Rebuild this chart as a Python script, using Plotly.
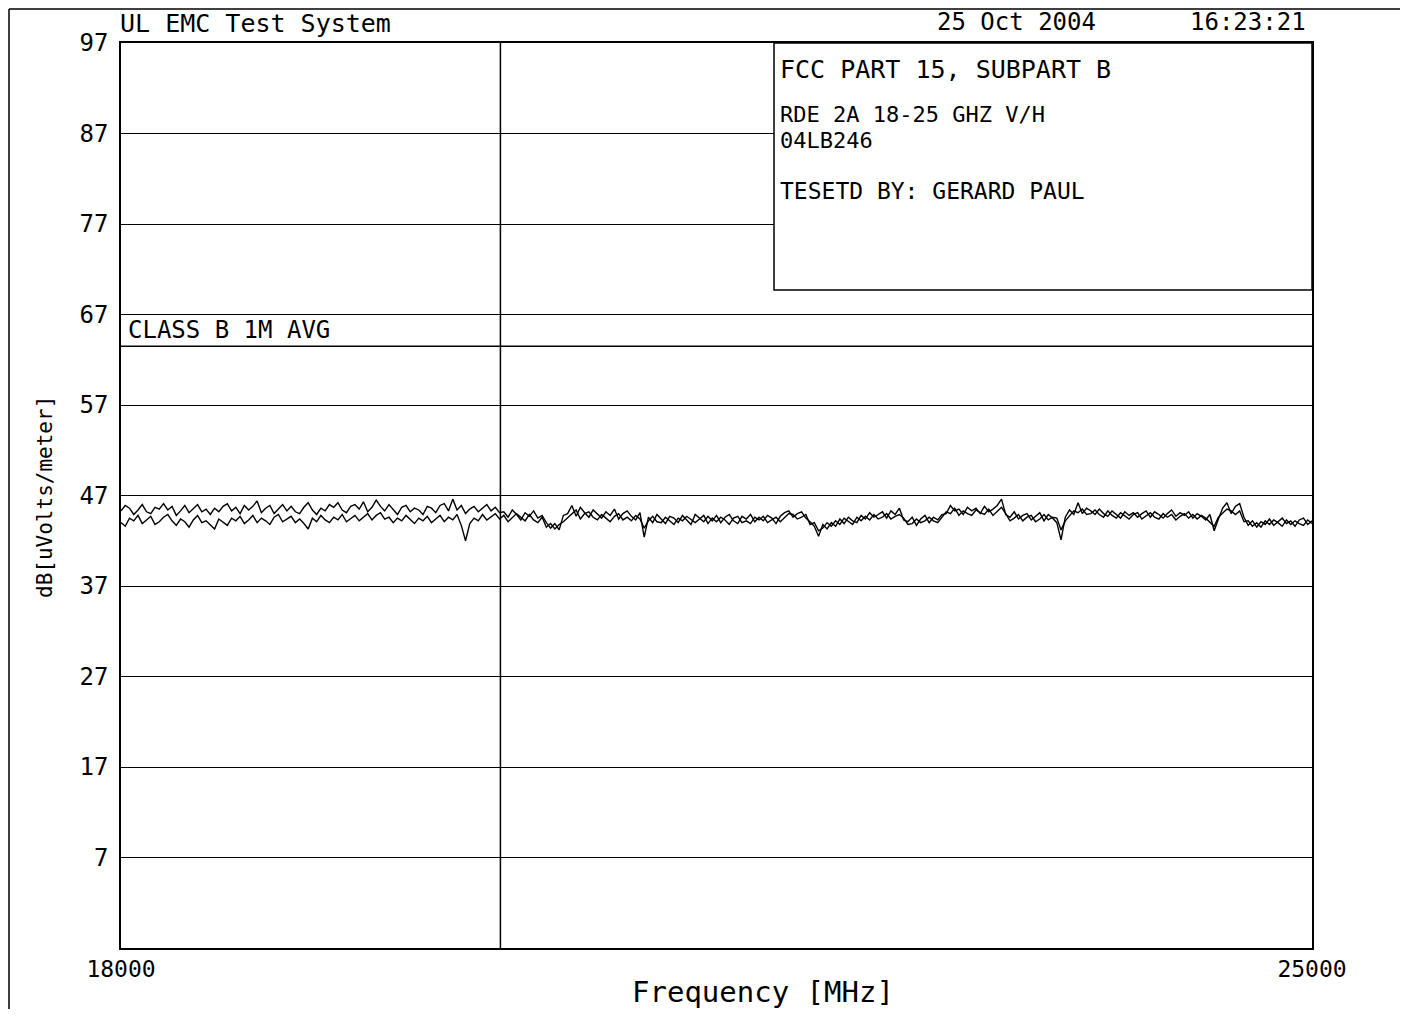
import numpy as np
import plotly.graph_objects as go

# ---------------- data ----------------
FREQ_START = 18000
FREQ_STOP = 25000
BAND_SPLIT = 20230          # vertical divider (MHz)
LIMIT_LABEL = "CLASS B 1M AVG"
LIMIT_VALUE = 63.5          # dBuV/m

Y_TICKS = [7, 17, 27, 37, 47, 57, 67, 77, 87, 97]
X_TICKS = [18000, 25000]

trace_v = [
    45.3, 45.9, 45.6, 44.9, 45.4, 46.0, 45.2, 45.0, 45.7, 45.5,
    46.1, 45.4, 45.8, 44.8, 45.3, 45.9, 45.1, 45.6, 46.0, 45.2,
    45.5, 44.9, 45.6, 45.2, 45.8, 46.1, 45.3, 45.7, 45.0, 45.9,
    45.4, 45.8, 46.4, 45.1, 45.6, 45.9, 45.0, 45.5, 46.0, 45.3,
    45.8, 45.2, 45.0, 45.7, 46.2, 45.4, 44.9, 45.6, 45.3, 46.0,
    45.7, 46.2, 45.4, 45.1, 45.8, 46.0, 45.5, 46.3, 45.2, 45.7,
    46.5, 45.8, 45.3, 46.0, 45.5, 44.9, 45.7, 45.9, 45.2, 45.6,
    45.4, 44.9, 45.8, 45.6, 45.1, 45.9, 46.1, 45.3, 46.6, 45.4,
    45.9, 45.0, 45.5, 45.8, 45.2, 45.6, 46.0, 45.3, 45.7, 45.1,
    45.2, 44.6, 45.4, 44.9, 44.3, 45.1, 44.7, 45.3, 44.5, 44.8,
    44.0, 43.4, 43.9, 43.2, 44.8, 45.0, 45.9, 44.7, 45.7, 45.1,
    44.6, 45.4, 45.0, 44.5, 45.2, 44.8, 45.5, 44.4, 45.0, 45.3,
    44.7, 44.3, 45.1, 42.4, 44.6, 44.0, 44.9, 44.4, 43.9, 44.7,
    44.5, 44.0, 44.8, 44.3, 43.8, 44.9, 44.5, 44.1, 44.7, 44.2,
    44.8, 44.0, 44.6, 44.9, 44.2, 43.9, 44.7, 44.4, 44.9, 44.1,
    44.6, 44.2, 44.8, 44.5, 43.9, 44.7, 45.1, 45.3, 44.6, 45.0,
    45.2, 44.5, 44.1, 43.6, 42.5, 43.8, 43.3, 44.0, 43.6, 44.4,
    43.9, 44.6, 44.2, 44.0, 44.8, 44.4, 45.1, 44.6, 44.9, 45.2,
    44.5, 45.3, 44.9, 45.6, 44.3, 44.1, 44.6, 43.7, 44.4, 44.8,
    44.0, 44.6, 44.3, 44.9, 45.0, 45.9, 45.3, 45.5, 44.9, 45.7,
    45.3, 45.6, 45.0, 45.8, 45.2, 45.5, 45.9, 46.6, 44.9, 44.6,
    45.2, 44.4, 44.8, 45.0, 44.3, 44.7, 45.1, 44.2, 44.9, 44.5,
    44.0, 42.1, 44.6, 45.4, 44.9, 46.2, 45.0, 45.6, 45.3, 44.9,
    45.5, 45.0, 44.7, 45.3, 44.9, 44.5, 45.2, 44.8, 45.1, 44.6,
    45.0, 45.3, 44.6, 45.2, 44.9, 44.5, 45.0, 45.4, 44.7, 45.1,
    44.8, 45.2, 44.5, 45.0, 44.7, 44.3, 44.9, 43.1, 44.4, 45.6,
    46.2, 45.0, 45.8, 46.1, 44.6, 43.7, 44.2, 43.5, 44.1, 43.8,
    44.4, 43.7, 44.1, 44.5, 43.9, 44.2, 43.6, 44.3, 44.5, 43.8,
    44.2,
]

trace_h = [
    44.0, 43.6, 44.5, 44.2, 44.8, 43.9, 44.3, 44.7, 43.8, 44.1,
    44.6, 44.9, 44.2, 43.7, 44.4, 44.1, 43.5, 44.3, 44.8, 44.0,
    44.2, 43.8, 43.3, 44.4, 44.0, 43.7, 44.5, 44.2, 44.7, 43.9,
    44.3, 44.8, 44.0, 44.5, 44.2, 43.8, 44.6, 44.9, 44.1, 44.4,
    44.7, 44.0, 44.4, 43.9, 43.3, 44.5, 44.1, 44.8, 44.3, 44.0,
    44.6, 44.3, 44.9, 44.1, 44.5, 44.8, 44.2, 44.6, 45.0, 44.3,
    44.8, 45.1, 44.4, 44.6, 44.0, 44.5, 44.2, 44.8, 44.4, 43.9,
    44.5, 44.2, 44.7, 44.0, 44.4, 44.8, 44.1, 44.6, 44.3, 44.9,
    43.7, 42.0, 43.9, 44.5, 44.2, 44.9, 44.3, 44.7, 45.0, 44.4,
    44.8, 44.1, 44.5, 45.0, 44.6, 44.2, 44.9, 44.3, 44.0, 44.6,
    43.5, 43.9, 43.3, 43.8, 44.1, 44.5, 44.9, 45.4, 44.4, 45.0,
    45.2, 44.6, 44.3, 44.9, 44.5, 44.1, 44.7, 45.0, 44.3, 44.6,
    44.2, 44.8, 44.4, 43.4, 44.2, 44.7, 44.1, 44.0, 44.6, 44.2,
    43.8, 44.5, 44.2, 44.7, 44.3, 44.0, 44.4, 44.8, 43.9, 44.5,
    44.1, 44.6, 44.3, 43.8, 44.5, 44.7, 44.0, 44.2, 43.9, 44.6,
    44.3, 44.7, 44.0, 44.3, 44.6, 44.1, 44.5, 45.0, 44.9, 44.4,
    44.6, 44.9, 43.8, 44.0, 43.1, 43.4, 44.0, 43.6, 44.2, 43.8,
    44.5, 44.1, 43.8, 44.6, 44.2, 44.7, 44.3, 44.9, 44.4, 44.6,
    45.0, 44.4, 44.7, 44.9, 44.5, 43.8, 43.9, 44.4, 44.0, 44.2,
    44.6, 44.2, 44.0, 44.6, 45.2, 45.0, 45.6, 44.8, 45.3, 45.0,
    44.8, 45.4, 45.1, 44.9, 45.5, 44.8, 45.2, 45.7, 45.0, 44.2,
    44.5, 44.9, 44.2, 44.6, 44.8, 44.1, 44.4, 44.9, 44.3, 44.6,
    44.5, 43.2, 44.2, 44.8, 45.3, 45.1, 45.5, 44.9, 45.0, 45.4,
    44.9, 44.6, 45.3, 44.8, 44.5, 45.1, 44.7, 44.4, 44.9, 45.1,
    44.4, 44.8, 45.1, 44.6, 44.4, 45.0, 44.6, 44.9, 44.3, 44.7,
    45.0, 44.5, 44.9, 44.4, 44.8, 44.5, 44.0, 43.6, 44.6, 45.0,
    45.5, 45.3, 44.9, 45.3, 44.1, 44.2, 43.6, 44.0, 43.5, 44.2,
    43.8, 44.3, 44.0, 43.6, 44.3, 43.8, 44.2, 43.9, 43.7, 44.3,
    43.9,
]

freq_v = np.linspace(FREQ_START, FREQ_STOP, len(trace_v))
freq_h = np.linspace(FREQ_START, FREQ_STOP, len(trace_h))

# ---------------- figure ----------------
FONT = "DejaVu Sans Mono"
BLACK = "#000000"

fig = go.Figure()
fig.add_trace(go.Scatter(x=[FREQ_START, FREQ_STOP], y=[LIMIT_VALUE, LIMIT_VALUE],
                         mode="lines", line=dict(color=BLACK, width=1.5),
                         showlegend=False, hoverinfo="skip"))
fig.add_trace(go.Scatter(x=freq_v, y=trace_v, mode="lines",
                         line=dict(color=BLACK, width=1.4), showlegend=False))
fig.add_trace(go.Scatter(x=freq_h, y=trace_h, mode="lines",
                         line=dict(color=BLACK, width=1.4), showlegend=False))

# page geometry (px, page coordinates); the html body adds an 8px margin
OFF = 8
PAGE_W, PAGE_H = 1408, 1017
L, T, W, H = 121, 43, 1191, 905
FIG_W, FIG_H = PAGE_W - 2 * OFF, PAGE_H - 2 * OFF


def px(x):
    return (x - L) / W


def py(y):
    return (T + H - y) / H


fig.update_layout(
    width=FIG_W, height=FIG_H,
    margin=dict(l=L - OFF, r=FIG_W - (L - OFF) - W, t=T - OFF, b=FIG_H - (T - OFF) - H),
    paper_bgcolor="white", plot_bgcolor="white",
    font=dict(family=FONT, color=BLACK, size=24),
    xaxis=dict(range=[FREQ_START, FREQ_STOP], tickvals=X_TICKS,
               ticktext=[str(v) for v in X_TICKS],
               showgrid=False, zeroline=False, showline=True, mirror=True,
               linecolor=BLACK, linewidth=1.5, ticks="",
               tickfont=dict(family=FONT, size=23)),
    yaxis=dict(range=[-3, 97], tickvals=Y_TICKS,
               showgrid=True, gridcolor=BLACK, gridwidth=1.3,
               zeroline=False, showline=True, mirror=True,
               linecolor=BLACK, linewidth=1.5, ticks="",
               ticklabelstandoff=6,
               tickfont=dict(family=FONT, size=24)),
)

shapes = [
    # band divider
    dict(type="line", xref="x", yref="paper", x0=BAND_SPLIT, x1=BAND_SPLIT,
         y0=0, y1=1, line=dict(color=BLACK, width=1.5)),
    # info box
    dict(type="rect", xref="paper", yref="paper", x0=px(774), x1=1, y0=py(290), y1=1,
         fillcolor="white", line=dict(color=BLACK, width=1.5), layer="above"),
    # page frame (left and top)
    dict(type="line", xref="paper", yref="paper", x0=px(9), x1=px(9),
         y0=py(PAGE_H), y1=py(9), line=dict(color=BLACK, width=1.5)),
    dict(type="line", xref="paper", yref="paper", x0=px(9), x1=px(1400),
         y0=py(9), y1=py(9), line=dict(color=BLACK, width=1.5)),
]
fig.update_layout(shapes=shapes)


def note(text, x, y, xanchor="left", size=24, angle=0):
    fig.add_annotation(text=text, xref="paper", yref="paper", x=x, y=y,
                       xanchor=xanchor, yanchor="middle", showarrow=False,
                       textangle=angle, font=dict(family=FONT, size=size, color=BLACK))


note("UL EMC Test System", px(118), py(23), size=25)
note("25 Oct 2004", px(935), py(22), size=24)
note("16:23:21", px(1308), py(22), xanchor="right", size=24)
note("FCC PART 15, SUBPART B", px(778), py(70), size=25)
note("RDE 2A 18-25 GHZ V/H", px(778), py(114), size=22)
note("04LB246", px(778), py(140), size=22)
note("TESETD BY: GERARD PAUL", px(778), py(191), size=23)
note(LIMIT_LABEL, px(126), py(330), size=24)
note("Frequency [MHz]", px(763), py(992), xanchor="center", size=29)
note("dB[uVolts/meter]", px(45), py(497), xanchor="center", size=21, angle=-90)

fig.write_html("out.html")
